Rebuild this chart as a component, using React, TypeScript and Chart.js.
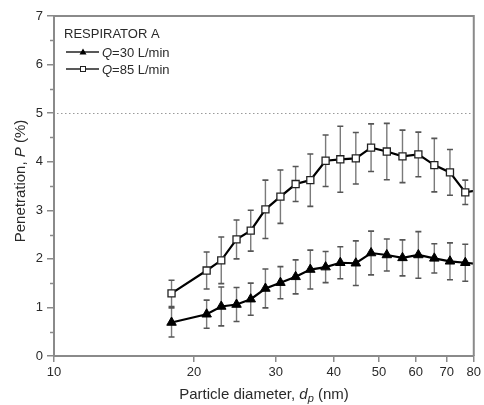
import React, { useEffect, useRef } from "react";
import { Chart, registerables } from "chart.js";

Chart.register(...registerables);

// ---- data ----
const diameters = [17.9, 21.3, 22.9, 24.7, 26.5, 28.5, 30.7, 33.1, 35.6, 38.4, 41.3, 44.6, 48.1, 52.0, 56.2, 60.8, 65.8, 71.1, 76.7, 82.9];
const q30Values = [0.69, 0.86, 1.02, 1.06, 1.17, 1.39, 1.51, 1.63, 1.78, 1.83, 1.92, 1.91, 2.12, 2.08, 2.02, 2.08, 2.01, 1.95, 1.92, 1.89];
const q30Errors = [0.30, 0.29, 0.40, 0.35, 0.33, 0.40, 0.33, 0.35, 0.40, 0.32, 0.33, 0.46, 0.45, 0.33, 0.37, 0.48, 0.30, 0.38, 0.38, 0.38];
const q85Values = [1.29, 1.76, 1.97, 2.40, 2.58, 3.02, 3.28, 3.54, 3.62, 4.02, 4.05, 4.07, 4.29, 4.21, 4.11, 4.15, 3.93, 3.78, 3.37, 3.42];
const q85Errors = [0.27, 0.38, 0.48, 0.40, 0.42, 0.60, 0.55, 0.36, 0.54, 0.53, 0.68, 0.53, 0.49, 0.58, 0.54, 0.46, 0.55, 0.47, 0.25, 0.25];
const xTickValues = [10, 20, 30, 40, 50, 60, 70, 80];
const yMinorTicks = [0.5, 1.5, 2.5, 3.5, 4.5, 5.5, 6.5];
const limitValue = 5;
const legendTitle = "RESPIRATOR A";
const legendLabels = ["=30 L/min", "=85 L/min"];

const FONT = '"Liberation Sans", Arial, Helvetica, sans-serif';
const AXIS_COLOR = "#8a8a8a";
const TEXT_COLOR = "#2a2a2a";

type Seg = { text: string; font: string; dy?: number };

function drawSegs(ctx: CanvasRenderingContext2D, segs: Seg[], x: number, y: number, align: "left" | "center") {
  let total = 0;
  for (const s of segs) {
    ctx.font = s.font;
    total += ctx.measureText(s.text).width;
  }
  let cx = align === "center" ? x - total / 2 : x;
  ctx.textAlign = "left";
  ctx.textBaseline = "alphabetic";
  for (const s of segs) {
    ctx.font = s.font;
    ctx.fillText(s.text, cx, y + (s.dy || 0));
    cx += ctx.measureText(s.text).width;
  }
}

const overlayPlugin = {
  id: "overlay",
  beforeDatasetsDraw(chart: any) {
    const { ctx, chartArea: a, scales } = chart;
    const x = scales.x;
    const y = scales.y;
    ctx.save();
    ctx.beginPath();
    ctx.rect(a.left, a.top, a.right - a.left, a.bottom - a.top);
    ctx.clip();
    // dotted limit line
    const yl = Math.round(y.getPixelForValue(limitValue)) + 0.5;
    ctx.strokeStyle = "#9a9a9a";
    ctx.lineWidth = 1;
    ctx.setLineDash([1.5, 2.5]);
    ctx.beginPath();
    ctx.moveTo(a.left + 3, yl);
    ctx.lineTo(a.right, yl);
    ctx.stroke();
    ctx.setLineDash([]);
    // error bars
    const sets = [
      { v: q30Values, e: q30Errors },
      { v: q85Values, e: q85Errors },
    ];
    for (const s of sets) {
      for (let i = 0; i < diameters.length; i++) {
        const px = x.getPixelForValue(diameters[i]);
        const pt = y.getPixelForValue(s.v[i] + s.e[i]);
        const pb = y.getPixelForValue(s.v[i] - s.e[i]);
        ctx.strokeStyle = "#7a7a7a";
        ctx.lineWidth = 1.4;
        ctx.beginPath();
        ctx.moveTo(px, pt);
        ctx.lineTo(px, pb);
        ctx.stroke();
        ctx.strokeStyle = "#555";
        ctx.lineWidth = 1.6;
        ctx.beginPath();
        ctx.moveTo(px - 3, pt);
        ctx.lineTo(px + 3, pt);
        ctx.moveTo(px - 3, pb);
        ctx.lineTo(px + 3, pb);
        ctx.stroke();
      }
    }
    ctx.restore();
  },
  afterDraw(chart: any) {
    const { ctx, chartArea: a, scales } = chart;
    const y = scales.y;
    ctx.save();
    // frame (top and right)
    ctx.strokeStyle = AXIS_COLOR;
    ctx.lineWidth = 2;
    ctx.beginPath();
    ctx.moveTo(a.left, a.top);
    ctx.lineTo(a.right, a.top);
    ctx.lineTo(a.right, a.bottom);
    ctx.stroke();
    // minor y ticks
    ctx.lineWidth = 1.5;
    ctx.beginPath();
    for (const v of yMinorTicks) {
      const py = Math.round(y.getPixelForValue(v)) + 0.5;
      ctx.moveTo(a.left - 4, py);
      ctx.lineTo(a.left, py);
    }
    ctx.stroke();

    ctx.fillStyle = TEXT_COLOR;
    // x title
    drawSegs(
      ctx,
      [
        { text: "Particle diameter, ", font: `15px ${FONT}` },
        { text: "d", font: `italic 15px ${FONT}` },
        { text: "p", font: `italic 11px ${FONT}`, dy: 3 },
        { text: " (nm)", font: `15px ${FONT}` },
      ],
      264,
      399,
      "center"
    );
    // y title
    ctx.save();
    ctx.translate(25, 181);
    ctx.rotate(-Math.PI / 2);
    drawSegs(
      ctx,
      [
        { text: "Penetration, ", font: `15px ${FONT}` },
        { text: "P", font: `italic 15px ${FONT}` },
        { text: " (%)", font: `15px ${FONT}` },
      ],
      0,
      0,
      "center"
    );
    ctx.restore();

    // legend
    drawSegs(ctx, [{ text: legendTitle, font: `13px ${FONT}` }], 64, 38, "left");
    const rows = [52, 69];
    for (let r = 0; r < 2; r++) {
      const ly = rows[r];
      ctx.strokeStyle = "#222";
      ctx.lineWidth = 1.3;
      ctx.beginPath();
      ctx.moveTo(66, ly);
      ctx.lineTo(99, ly);
      ctx.stroke();
      if (r === 0) {
        ctx.fillStyle = "#000";
        ctx.beginPath();
        ctx.moveTo(83, ly - 3.5);
        ctx.lineTo(86.5, ly + 2.5);
        ctx.lineTo(79.5, ly + 2.5);
        ctx.closePath();
        ctx.fill();
      } else {
        ctx.fillStyle = "#fff";
        ctx.strokeStyle = "#222";
        ctx.lineWidth = 1;
        ctx.fillRect(80.5, ly - 2.5, 5, 5);
        ctx.strokeRect(80.5, ly - 2.5, 5, 5);
      }
      ctx.fillStyle = TEXT_COLOR;
      drawSegs(
        ctx,
        [
          { text: "Q", font: `italic 13px ${FONT}` },
          { text: legendLabels[r], font: `13px ${FONT}` },
        ],
        102,
        ly + 5,
        "left"
      );
    }
    ctx.restore();
  },
};

export default function App() {
  const ref = useRef<HTMLCanvasElement | null>(null);
  useEffect(() => {
    document.body.style.margin = "0";
    const canvas = ref.current;
    if (!canvas) return;
    const chart = new Chart(canvas, {
      type: "line",
      data: {
        datasets: [
          {
            label: "Q=30 L/min",
            data: diameters.map((d, i) => ({ x: d, y: q30Values[i] })),
            borderColor: "#000",
            borderWidth: 2.2,
            pointStyle: "triangle",
            pointRadius: 5.5,
            pointBackgroundColor: "#000",
            pointBorderColor: "#000",
            pointBorderWidth: 1,
            clip: 0,
          },
          {
            label: "Q=85 L/min",
            data: diameters.map((d, i) => ({ x: d, y: q85Values[i] })),
            borderColor: "#000",
            borderWidth: 2.2,
            pointStyle: "rect",
            pointRadius: 5,
            pointBackgroundColor: "#fff",
            pointBorderColor: "#222",
            pointBorderWidth: 1.3,
            clip: 0,
          },
        ],
      },
      options: {
        animation: false,
        responsive: false,
        devicePixelRatio: 1,
        layout: { padding: { left: 0, top: 16, right: 8, bottom: 0 } },
        plugins: {
          legend: { display: false },
          tooltip: { enabled: false },
        },
        scales: {
          x: {
            type: "logarithmic",
            min: 10,
            max: 80,
            afterBuildTicks: (scale: any) => {
              scale.ticks = xTickValues.map((v) => ({ value: v }));
            },
            afterFit: (scale: any) => {
              scale.height = 49;
            },
            ticks: {
              autoSkip: false,
              maxRotation: 0,
              color: TEXT_COLOR,
              font: { family: FONT, size: 13 },
              padding: 3,
              callback: (v: any) => String(v),
            },
            grid: {
              display: true,
              drawOnChartArea: false,
              drawTicks: true,
              tickLength: 6,
              color: AXIS_COLOR,
              lineWidth: 1.5,
            },
            border: { display: true, color: AXIS_COLOR, width: 2 },
          },
          y: {
            type: "linear",
            min: 0,
            max: 7,
            afterFit: (scale: any) => {
              scale.width = 54;
            },
            ticks: {
              stepSize: 1,
              color: TEXT_COLOR,
              font: { family: FONT, size: 13 },
              padding: 4,
            },
            grid: {
              display: true,
              drawOnChartArea: false,
              drawTicks: true,
              tickLength: 7,
              color: AXIS_COLOR,
              lineWidth: 1.5,
            },
            border: { display: true, color: AXIS_COLOR, width: 2 },
          },
        },
      },
      plugins: [overlayPlugin],
    });
    return () => chart.destroy();
  }, []);
  return <canvas ref={ref} width={484} height={405} style={{ display: "block", width: 484, height: 405 }} />;
}
